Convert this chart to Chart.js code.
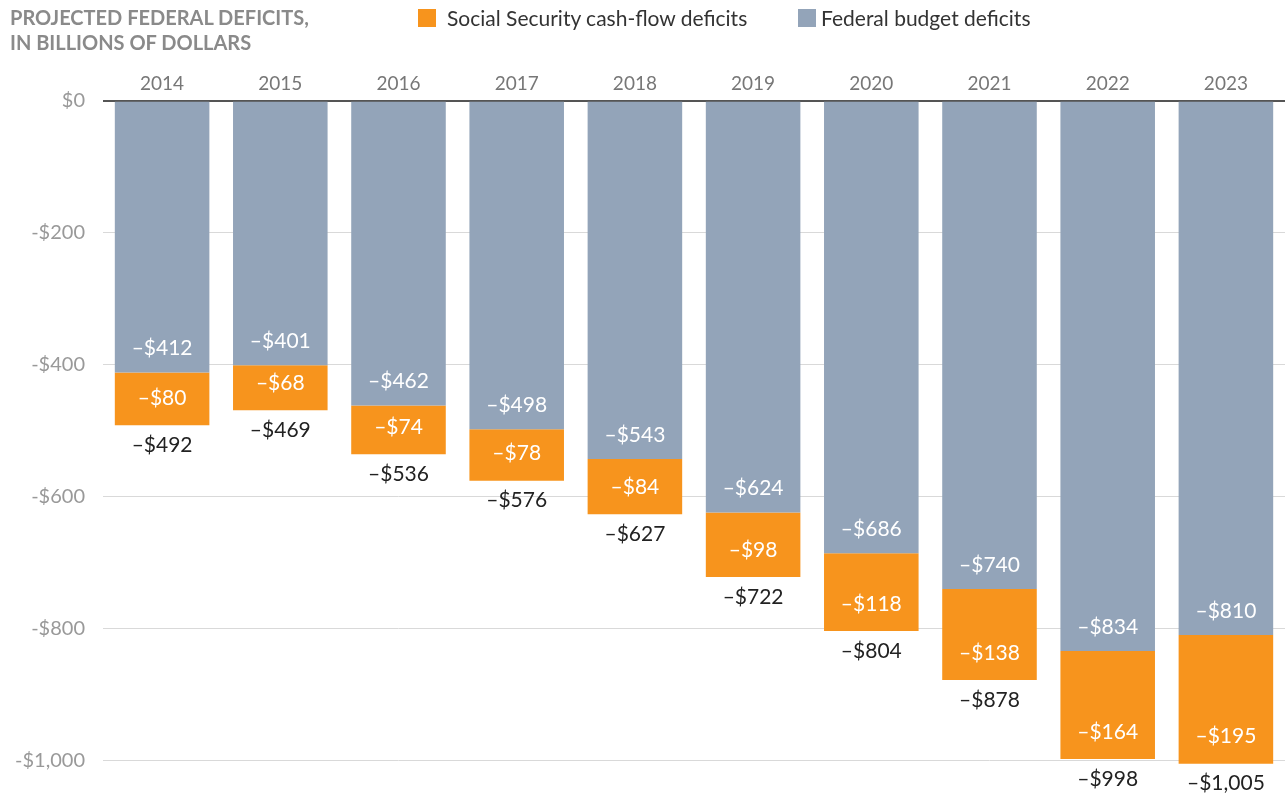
<!DOCTYPE html>
<html>
<head>
<meta charset="utf-8">
<script src="https://cdn.jsdelivr.net/npm/chart.js@4/dist/chart.umd.min.js"></script>
<style>
  body { margin: 0; background: #fff; font-family: Lato, sans-serif; }
  #wrap { position: relative; width: 1285px; height: 797px; }
  #title { position: absolute; left: 10px; top: 5px; font-weight: bold; font-size: 20px; line-height: 25px; color: #8a8a8a; }
  .leg { position: absolute; top: 4px; font-size: 21px; line-height: 28px; color: #333; }
  .sw { position: absolute; top: 9px; width: 18px; height: 18px; }
</style>
</head>
<body>
<div id="wrap">
  <canvas id="myChart"></canvas>
  <div id="title">PROJECTED FEDERAL DEFICITS,<br>IN BILLIONS OF DOLLARS</div>
  <div class="sw" style="left:418px;background:#F7941D"></div>
  <div class="leg" style="left:447px">Social Security cash-flow deficits</div>
  <div class="sw" style="left:798px;background:#93A4B9"></div>
  <div class="leg" style="left:821px">Federal budget deficits</div>
</div>
<script>
var years = ['2014', '2015', '2016', '2017', '2018', '2019', '2020', '2021', '2022', '2023'];
var federal = [-412, -401, -462, -498, -543, -624, -686, -740, -834, -810];
var socialSecurity = [-80, -68, -74, -78, -84, -98, -118, -138, -164, -195];
var totals = [-492, -469, -536, -576, -627, -722, -804, -878, -998, -1005];
var yTicks = [0, -200, -400, -600, -800, -1000];

// ----------------------------------------------------------------

function money(v) {
  return '\u2013$' + Math.abs(v).toLocaleString('en-US');
}

const barLabels = {
  id: 'barLabels',
  afterDatasetsDraw(chart) {
    const ctx = chart.ctx;
    ctx.save();
    ctx.font = '21px Lato';
    ctx.textAlign = 'center';
    ctx.textBaseline = 'middle';
    const fed = chart.getDatasetMeta(0).data;
    const ss = chart.getDatasetMeta(1).data;
    ctx.fillStyle = '#ffffff';
    fed.forEach(function (el, i) {
      ctx.fillText(money(federal[i]), el.x, el.y - 24);
    });
    ss.forEach(function (el, i) {
      ctx.fillText(money(socialSecurity[i]), el.x, el.y - 27);
    });
    ctx.fillStyle = '#222222';
    ss.forEach(function (el, i) {
      ctx.fillText(money(totals[i]), el.x, el.y + 20);
    });
    ctx.restore();
  }
};

const config = {
  type: 'bar',
  data: {
    labels: years,
    datasets: [{
      label: 'Federal budget deficits',
      data: federal,
      backgroundColor: '#93A4B9',
      barPercentage: 0.8,
      categoryPercentage: 1
    }, {
      label: 'Social Security cash-flow deficits',
      data: socialSecurity,
      backgroundColor: '#F7941D',
      barPercentage: 0.8,
      categoryPercentage: 1
    }]
  },
  plugins: [barLabels],
  options: {
    responsive: true,
    maintainAspectRatio: false,
    animation: false,
    layout: { padding: { top: 74, bottom: 29, left: 0, right: 0 } },
    plugins: {
      legend: { display: false },
      tooltip: { enabled: false }
    },
    scales: {
      x: {
        position: 'top',
        stacked: true,
        grid: { display: false },
        border: { display: false },
        ticks: {
          color: '#777',
          padding: -2,
          font: { family: 'Lato', size: 19 }
        }
      },
      y: {
        stacked: true,
        min: -1010,
        max: 0,
        afterBuildTicks: function (scale) {
          scale.ticks = yTicks.map(function (v) { return { value: v }; });
        },
        afterFit: function (scale) {
          scale.width = 103;
        },
        grid: {
          drawTicks: false,
          color: function (context) {
            return context.tick && context.tick.value === 0 ? '#555' : '#d9d9d9';
          },
          lineWidth: function (context) {
            return context.tick && context.tick.value === 0 ? 2 : 1;
          }
        },
        border: { display: false },
        ticks: {
          color: '#999',
          padding: 18,
          font: { family: 'Lato', size: 20 },
          callback: function (value) {
            return (value < 0 ? '-' : '') + '$' + Math.abs(value).toLocaleString('en-US');
          }
        }
      }
    }
  }
};

var canvas = document.getElementById('myChart').getContext('2d');
var myChart = new Chart(canvas, config);
</script>
</body>
</html>
